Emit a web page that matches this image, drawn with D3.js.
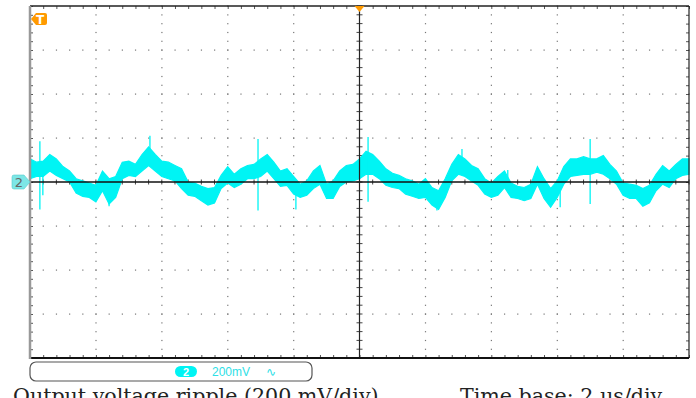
<!DOCTYPE html>
<html>
<head>
<meta charset="utf-8">
<script src="https://cdn.jsdelivr.net/npm/d3@7"></script>
<style>
	body { margin: 0; background: #fff; }
	svg { display: block; }
	.minor line, .minor path { stroke: #555; }
	.minor path { display: none; }
</style>
</head>
<body>
<div class="container"></div>
<script>
const WIDTH = 696
	, HEIGHT = 398
	, LEFT = 30
	, RIGHT = 689
	, TOP = 6
	, BOTTOM = 358;

// time axis: 2 us/div, 10 divisions ; voltage axis: 200 mV/div, 8 divisions
var timeDomain = [0, 20]
	, voltDomain = [-800, 800];

// envelope of the ripple trace, sampled every 0.2 us (mV, AC coupled)
var sampleStep = 0.2;
var rippleHigh = [105, 90, 95, 125, 105, 70, 50, 15, 5, -5,
	-15, 50, 15, 25, 90, 95, 80, 125, 160, 125,
	95, 90, 75, 60, 0, -5, -20, -30, -25, 30,
	70, 35, 60, 75, 80, 105, 125, 90, 50, 60,
	25, -10, 5, 50, 75, -10, 5, 50, 75, 80,
	105, 140, 125, 95, 60, 40, 30, 15, 5, -10,
	15, -25, -40, 15, 80, 125, 105, 75, 60, 15,
	-5, 25, 50, -5, -20, -25, -10, 70, 15, -30,
	5, 70, 105, 105, 115, 105, 105, 120, 80, 50,
	-5, -10, -15, -30, -15, 35, 75, 50, 80, 105, 105];
var rippleLow = [15, 25, 25, 50, 30, 15, 0, -50, -65, -70,
	-90, -40, -100, -70, 15, 30, 25, 50, 75, 50,
	25, 15, 5, -30, -60, -65, -85, -105, -95, -30,
	-5, -25, -10, 15, 15, 25, 50, 15, -20, -15,
	-55, -70, -60, -30, -10, -75, -75, -20, 0, 5,
	15, 35, 35, 15, -15, -25, -30, -55, -65, -75,
	-70, -105, -125, -70, 5, 35, 25, 5, -15, -55,
	-70, -60, -25, -70, -75, -85, -75, -10, -75, -115,
	-70, -10, 25, 30, 35, 35, 45, 35, 15, -10,
	-60, -75, -75, -110, -95, -40, -10, -25, 15, 30, 35];

// narrow noise spikes on top of the envelope
var spikeTimes = [0.30, 0.39, 2.40, 3.64, 6.92, 8.07, 10.26, 12.35, 13.11, 14.50, 16.09, 17.00];
var spikeHigh = [185, 40, 0, 210, 195, -10, 205, -60, 150, 55, -10, 195];
var spikeLow = [-125, -60, -110, 100, -130, -125, -90, -130, 60, -10, -115, -100];

var channelLabel = "2"
	, voltsPerDiv = "200mV"
	, caption = "Output voltage ripple (200 mV/div)"
	, timeCaption = "Time base: 2 \u00b5s/div";

var TRACE = "#00f4f4", ORANGE = "#ff9a00";

var _xScale = d3.scaleLinear().domain(timeDomain).range([LEFT, RIGHT]);
var _yScale = d3.scaleLinear().domain(voltDomain).range([BOTTOM, TOP]);

var svg = d3.select('.container').append('svg')
	.attr('width', WIDTH)
	.attr('height', HEIGHT);

var minorX = d3.range(timeDomain[0], timeDomain[1] + 0.001, 0.4);
var minorY = d3.range(voltDomain[0], voltDomain[1] + 0.001, 40);
var majorX = d3.range(2, 19, 2).filter(function (t) { return t != 10; });
var majorY = d3.range(-600, 601, 200).filter(function (v) { return v != 0; });

// dotted graticule
var grid = svg.append('g').classed('grid', true);
majorX.forEach(function (t) {
	grid.selectAll(null).data(minorY).enter().append('rect')
		.attr('x', _xScale(t) - 0.5).attr('y', function (v) { return _yScale(v) - 0.5; })
		.attr('width', 1.2).attr('height', 1.2).attr('fill', '#777');
});
majorY.forEach(function (v) {
	grid.selectAll(null).data(minorX).enter().append('rect')
		.attr('x', function (t) { return _xScale(t) - 0.5; }).attr('y', _yScale(v) - 0.5)
		.attr('width', 1.2).attr('height', 1.2).attr('fill', '#777');
});

// border ticks drawn with axes
var tickAxis = function (axisFn, scale, values, size, transform) {
	svg.append('g').classed('minor', true)
		.attr('transform', transform)
		.call(axisFn(scale).tickValues(values).tickSize(size).tickFormat(''));
};
tickAxis(d3.axisBottom, _xScale, minorX, 3, 'translate(0,' + TOP + ')');
tickAxis(d3.axisTop, _xScale, minorX, 3, 'translate(0,' + BOTTOM + ')');
tickAxis(d3.axisLeft, _yScale, minorY, 3, 'translate(' + RIGHT + ',0)');
tickAxis(d3.axisRight, _yScale, minorY, 3, 'translate(' + LEFT + ',0)');

// ticks across the centre lines
var cx = _xScale(10), cy = _yScale(0);
svg.append('g').selectAll('line').data(minorX).enter().append('line')
	.attr('x1', function (t) { return _xScale(t); }).attr('x2', function (t) { return _xScale(t); })
	.attr('y1', cy - 2.5).attr('y2', cy + 2.5).attr('stroke', '#444');
svg.append('g').selectAll('line').data(minorY).enter().append('line')
	.attr('y1', function (v) { return _yScale(v); }).attr('y2', function (v) { return _yScale(v); })
	.attr('x1', cx - 3).attr('x2', cx + 3).attr('stroke', '#444');

// trace
var band = d3.area()
	.x(function (d, i) { return _xScale(i * sampleStep); })
	.y0(function (d, i) { return _yScale(rippleLow[i]); })
	.y1(function (d) { return _yScale(d); });
svg.append('path')
	.attr('d', band(rippleHigh))
	.attr('fill', TRACE).attr('stroke', TRACE).attr('stroke-width', 1.2);
svg.append('g').selectAll('line').data(spikeTimes).enter().append('line')
	.attr('x1', function (t) { return _xScale(t); }).attr('x2', function (t) { return _xScale(t); })
	.attr('y1', function (t, i) { return _yScale(spikeHigh[i]); })
	.attr('y2', function (t, i) { return _yScale(spikeLow[i]); })
	.attr('stroke', TRACE).attr('stroke-width', 1.3);

// centre lines
svg.append('line').attr('x1', LEFT).attr('x2', RIGHT).attr('y1', cy).attr('y2', cy)
	.attr('stroke', '#111').attr('stroke-width', 1.4);
svg.append('line').attr('x1', cx).attr('x2', cx).attr('y1', TOP).attr('y2', BOTTOM)
	.attr('stroke', '#222').attr('stroke-width', 1.2);

// frame
svg.append('line').attr('x1', LEFT).attr('x2', RIGHT).attr('y1', TOP).attr('y2', TOP)
	.attr('stroke', '#222').attr('stroke-width', 1.5);
svg.append('line').attr('x1', RIGHT).attr('x2', RIGHT).attr('y1', TOP).attr('y2', BOTTOM)
	.attr('stroke', '#222').attr('stroke-width', 1.2);
svg.append('line').attr('x1', LEFT).attr('x2', RIGHT).attr('y1', BOTTOM).attr('y2', BOTTOM)
	.attr('stroke', '#111').attr('stroke-width', 2);
svg.append('line').attr('x1', LEFT).attr('x2', LEFT).attr('y1', TOP).attr('y2', BOTTOM + 1)
	.attr('stroke', '#999').attr('stroke-width', 2.5);

// trigger markers
svg.append('path')
	.attr('d', 'M' + (cx - 5) + ',' + TOP + 'L' + (cx + 5) + ',' + TOP + 'L' + cx + ',' + (TOP + 6) + 'Z')
	.attr('fill', ORANGE);
var tm = svg.append('g').attr('transform', 'translate(' + (LEFT + 1) + ',' + 19 + ')');
tm.append('path').attr('d', 'M0,0L5,-6L14,-6Q16,-6 16,-4L16,4Q16,6 14,6L5,6Z').attr('fill', ORANGE);
tm.append('text').attr('x', 9).attr('y', 4.5).attr('text-anchor', 'middle')
	.attr('font-family', 'DejaVu Sans').attr('font-weight', 'bold').attr('font-size', 12)
	.attr('fill', '#fff').text('T');

// channel marker
var chm = svg.append('g').attr('transform', 'translate(' + 12 + ',' + cy + ')');
chm.append('path').attr('d', 'M2,-7L12,-7L18,0L12,7L2,7Q0,7 0,5L0,-5Q0,-7 2,-7Z')
	.attr('fill', '#7de6e6').attr('stroke', '#5cc').attr('stroke-width', 0.6);
chm.append('text').attr('x', 7).attr('y', 4.5).attr('text-anchor', 'middle')
	.attr('font-family', 'DejaVu Sans').attr('font-size', 13).attr('fill', '#666')
	.text(channelLabel);

// channel info bar
svg.append('rect').attr('x', LEFT).attr('y', 362).attr('width', 282).attr('height', 19).attr('rx', 6)
	.attr('fill', '#fff').attr('stroke', '#555').attr('stroke-width', 1.2);
svg.append('rect').attr('x', 175).attr('y', 366).attr('width', 22).attr('height', 11).attr('rx', 5.5)
	.attr('fill', TRACE);
svg.append('text').attr('x', 186).attr('y', 376).attr('text-anchor', 'middle')
	.attr('font-family', 'Liberation Sans').attr('font-weight', 'bold').attr('font-size', 11)
	.attr('fill', '#fff').text(channelLabel);
svg.append('text').attr('x', 212).attr('y', 376)
	.attr('font-family', 'Liberation Sans').attr('font-size', 12)
	.attr('fill', '#2ee0e6').text(voltsPerDiv);
svg.append('text').attr('x', 266).attr('y', 376)
	.attr('font-family', 'DejaVu Sans').attr('font-size', 12)
	.attr('fill', '#2ee0e6').text('\u223f');

// captions (cut by the bottom edge, as in the source figure)
svg.append('text').attr('x', 13).attr('y', 403)
	.attr('font-family', 'DejaVu Serif').attr('font-size', 20.6).attr('fill', '#222')
	.text(caption);
svg.append('text').attr('x', 460).attr('y', 403)
	.attr('font-family', 'DejaVu Serif').attr('font-size', 20.6).attr('fill', '#222')
	.text(timeCaption);
</script>
</body>
</html>
